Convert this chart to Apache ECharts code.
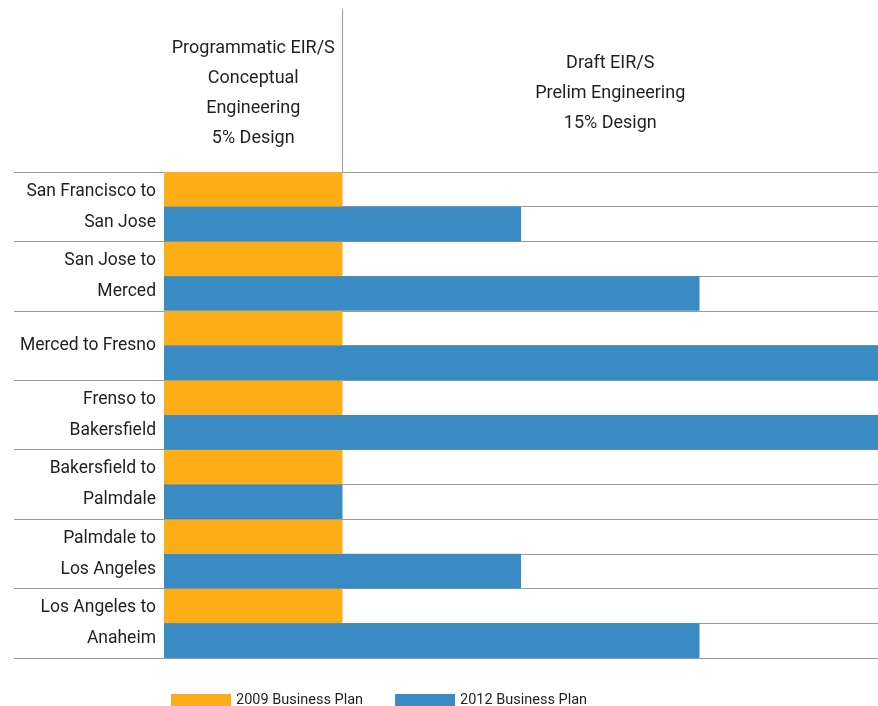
<!DOCTYPE html>
<html>
<head>
<meta charset="utf-8">
<script src="https://cdn.jsdelivr.net/npm/echarts@6/dist/echarts.min.js"></script>
<style>
    html, body { margin: 0; padding: 0; background: #fff; }
    #draw_area { width: 878px; height: 706px; }
</style>
</head>
<body>
<div id="draw_area"></div>
<script>
"use strict";

// 路段名称（从上到下）
var segments = [
    'San Francisco to\nSan Jose',
    'San Jose to\nMerced',
    'Merced to Fresno',
    'Frenso to\nBakersfield',
    'Bakersfield to\nPalmdale',
    'Palmdale to\nLos Angeles',
    'Los Angeles to\nAnaheim'
];

// 设计阶段：1 = 5% 设计, 4 = 15% 设计右端
var plan2009 = [1, 1, 1, 1, 1, 1, 1];
var plan2012 = [2, 3, 4, 4, 1, 2, 3];

var seriesNames = ['2009 Business Plan', '2012 Business Plan'];

// 表头列
var phaseHeaders = [
    { name: 'Programmatic EIR/S\nConceptual\nEngineering\n5% Design', from: 0, to: 1 },
    { name: 'Draft EIR/S\nPrelim Engineering\n15% Design', from: 1, to: 4 }
];

var FONT = "'Liberation Sans Narrow', 'Roboto', sans-serif";
var TEXT_COLOR = '#231f20';
var LINE_COLOR = '#9a9a9a';

// 中间分隔线用的空类目（每根柱子一个）
var halfSlots = [];
for (var i = 0; i < segments.length * 2; i++) halfSlots.push(String(i));

var option = {
    animation: false,
    textStyle: { fontFamily: FONT },
    grid: [
        { left: 164, right: 0, top: 172, bottom: 48, outerBoundsMode: 'none', containLabel: false },
        { left: 164, right: 0, top: 9, height: 163, outerBoundsMode: 'none', containLabel: false }
    ],
    xAxis: [
        {
            gridIndex: 0, type: 'value', min: 0, max: 4,
            axisLine: { show: false }, axisTick: { show: false },
            axisLabel: { show: false }, splitLine: { show: false }
        },
        {
            gridIndex: 1, type: 'value', min: 0, max: 4, position: 'top',
            axisLine: { show: true, lineStyle: { color: LINE_COLOR, width: 1 } },
            axisTick: { show: false }, axisLabel: { show: false }, splitLine: { show: false }
        }
    ],
    yAxis: [
        {
            gridIndex: 0, type: 'category', inverse: true, data: segments,
            axisLine: { show: false },
            axisTick: { show: true, length: 150, lineStyle: { color: LINE_COLOR } },
            axisLabel: {
                color: TEXT_COLOR, fontSize: 17.5, lineHeight: 31, margin: 8,
                fontFamily: FONT, align: 'right'
            },
            splitLine: { show: true, lineStyle: { color: LINE_COLOR } }
        },
        {
            gridIndex: 0, type: 'category', inverse: true, data: halfSlots,
            axisLine: { show: false }, axisTick: { show: false },
            axisLabel: { show: false },
            splitLine: { show: true, lineStyle: { color: LINE_COLOR } }
        },
        {
            gridIndex: 1, type: 'value', min: 0, max: 1, show: false
        }
    ],
    legend: {
        data: seriesNames,
        left: 166, top: 688,
        icon: 'rect', itemWidth: 60, itemHeight: 13, itemGap: 32,
        textStyle: { color: TEXT_COLOR, fontSize: 14.5, fontFamily: FONT }
    },
    series: [
        {
            name: seriesNames[0], type: 'bar', data: plan2009,
            xAxisIndex: 0, yAxisIndex: 0,
            barGap: '0%', barCategoryGap: '0%',
            itemStyle: { color: '#fdae17' }
        },
        {
            name: seriesNames[1], type: 'bar', data: plan2012,
            xAxisIndex: 0, yAxisIndex: 0,
            barGap: '0%', barCategoryGap: '0%',
            itemStyle: { color: '#3a8ac4' }
        },
        {
            // 表头：竖线和阶段说明
            type: 'line', data: [], xAxisIndex: 1, yAxisIndex: 2,
            silent: true,
            markLine: {
                silent: true, symbol: 'none',
                label: { show: false },
                lineStyle: { color: LINE_COLOR, type: 'solid', width: 1 },
                data: [{ xAxis: 1 }]
            },
            markArea: {
                silent: true,
                itemStyle: { color: 'rgba(0,0,0,0)' },
                label: {
                    show: true, position: 'inside', formatter: '{b}', offset: [0, 3],
                    color: TEXT_COLOR, fontSize: 18, lineHeight: 30, fontFamily: FONT
                },
                data: phaseHeaders.map(function (h) {
                    return [{ name: h.name, xAxis: h.from, yAxis: 0 }, { xAxis: h.to, yAxis: 1 }];
                })
            }
        }
    ]
};

var chart_object = echarts.init(document.getElementById('draw_area'));
chart_object.setOption(option);
</script>
</body>
</html>
